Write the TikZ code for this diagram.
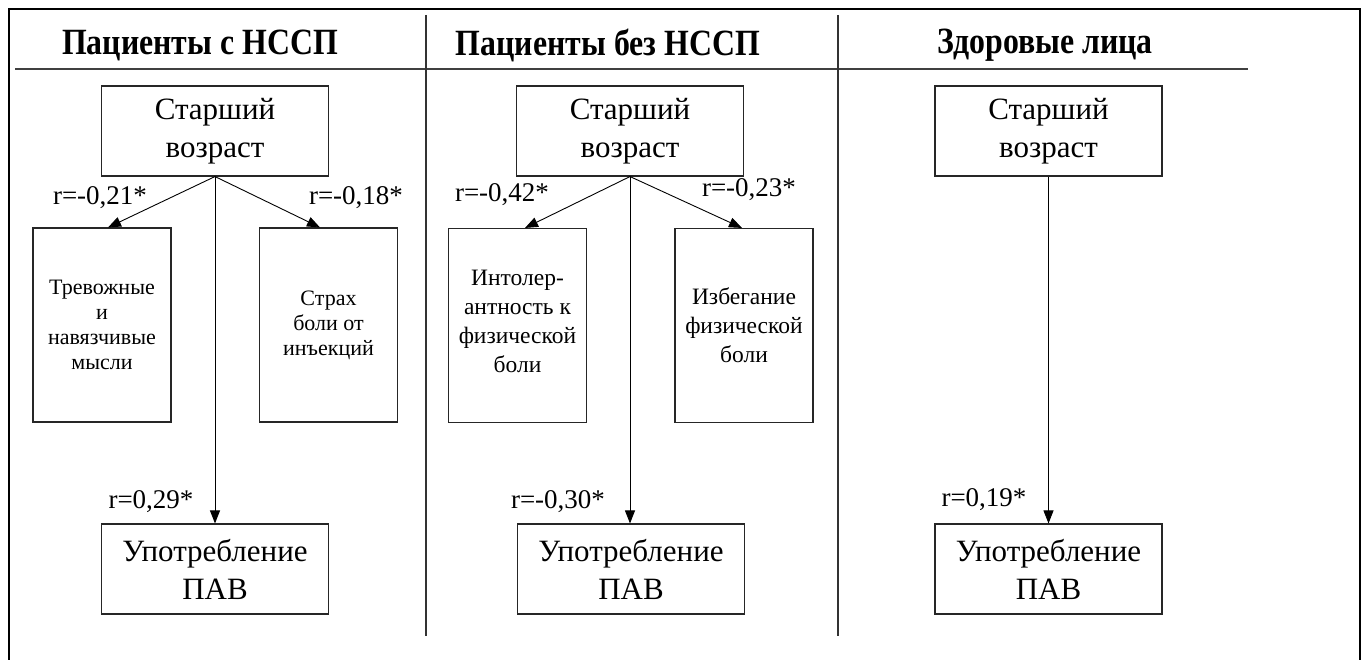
\documentclass[tikz,border=0pt]{standalone}
\usepackage{fontspec}
\setmainfont{Liberation Serif}
\newfontfamily\headfont{Liberation Serif}[FakeStretch=0.86]
\usepackage{tikz}
\usetikzlibrary{arrows.meta}
\usetikzlibrary{positioning}

\begin{document}
\begin{tikzpicture}[x=1pt,y=-1pt,line width=0.9pt]
  \tikzstyle{head}=[font=\headfont\fontsize{37}{40}\selectfont\bfseries, inner sep=0pt]
  \tikzstyle{box}=[draw=black!85, line width=1.1pt, minimum width=227pt, minimum height=90pt,
                   inner sep=0pt, align=center, font=\fontsize{31}{38}\selectfont]
  \tikzstyle{side}=[draw=black!85, line width=1.1pt, minimum width=138pt, minimum height=194pt,
                    inner sep=0pt, align=center]
  \tikzstyle{lbl}=[font=\fontsize{27}{30}\selectfont, inner sep=0pt]
  \tikzstyle{link}=[-{Triangle[length=13pt,width=10pt]}, line width=0.9pt]
  \useasboundingbox (0,0) rectangle (1365,660);
  % frame, header line and column dividers
  \draw[line width=2.6pt] (9,664) -- (9,9) -- (1360,9) -- (1360,664);
  \draw[black!75, line width=1.8pt] (15,69) -- (1248,69);
  \draw[black!80, line width=1.4pt] (426,15) -- (426,636);
  \draw[black!80, line width=1.4pt] (838,15) -- (838,636);
  \node[head] (h1) at (200,45) {Пациенты с НССП};
  \node[head] (h2) at (608,45) {Пациенты без НССП};
  \node[head] (h3) at (1045,45) {Здоровые лица};
  % column 1
  \node[box] (top1) at (215,131) {Старший\\возраст};
  \node[side, font=\fontsize{22}{25}\selectfont] (left1) at (102,325) {Тревожные\\и\\навязчивые\\мысли};
  \node[side, font=\fontsize{22}{25}\selectfont] (right1) at (328.5,325) {Страх\\боли от\\инъекций};
  \node[box] (bot1) at (215,569) {Употребление\\ПАВ};
  \path[link] (top1.south) edge (left1.north -| 108,0)
                           edge (right1.north -| 320,0)
                           edge (bot1.north -| top1.south);
  \node[lbl] (r11) at (100,198) {r=-0,21*};
  \node[lbl] (r12) at (356,198) {r=-0,18*};
  \node[lbl] (r13) at (151,502) {r=0,29*};
  % column 2
  \node[box] (top2) at (630,131) {Старший\\возраст};
  \node[side, font=\fontsize{23.5}{29}\selectfont, text depth=8pt] (left2) at (517.5,325.5) {Интолер-\\антность к\\физической\\боли};
  \node[side, font=\fontsize{23.5}{29}\selectfont] (right2) at (744,325.5) {Избегание\\физической\\боли};
  \node[box] (bot2) at (631,569) {Употребление\\ПАВ};
  \path[link] (top2.south) edge (left2.north -| 525,0)
                           edge (right2.north -| 742,0)
                           edge (bot2.north -| top2.south);
  \node[lbl] (r21) at (502,195) {r=-0,42*};
  \node[lbl] (r22) at (749,190) {r=-0,23*};
  \node[lbl] (r23) at (558,502) {r=-0,30*};
  % column 3
  \node[box] (top3) at (1048.5,131) {Старший\\возраст};
  \node[box] (bot3) at (1048.5,569) {Употребление\\ПАВ};
  \path[link] (top3) edge (bot3);
  \node[lbl] (r33) at (984,500) {r=0,19*};
\end{tikzpicture}
\end{document}
